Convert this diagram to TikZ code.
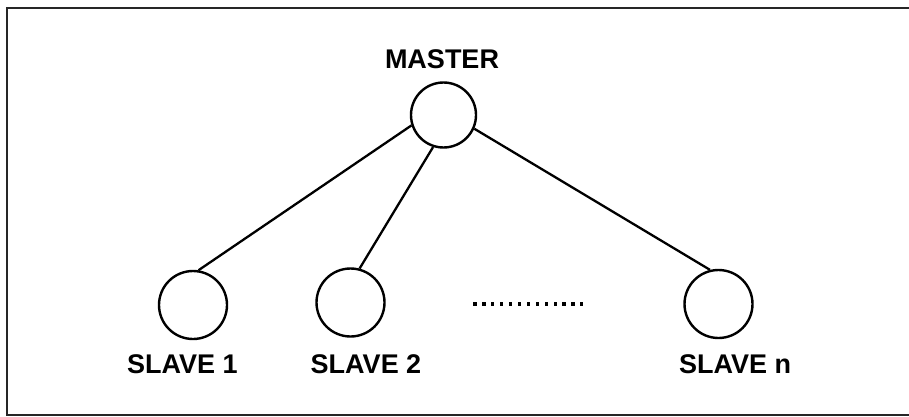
\documentclass[tikz,border=0pt]{standalone}
\usepackage{fontspec}
\setmainfont{Liberation Sans}
\begin{document}
\begin{tikzpicture}[x=1pt, y=-1pt,
  station/.style={circle, draw, line width=2.4pt, inner sep=0pt, minimum size=#1},
  station/.default=68pt,
  tag/.style={anchor=base, inner sep=0pt, font=\fontsize{27pt}{27pt}\selectfont\bfseries},
  link/.style={line width=2.3pt},
  frameline/.style={line width=2.2pt, black!85}]
  \useasboundingbox (0,0) rectangle (909,417);

  % outer frame (right side runs past the edge)
  \draw[frameline] (912,8) -- (7,8) -- (7,415) -- (912,415);

  % stations
  \node[station=65pt] (master) at (443.5,115) {};
  \node[station] (s1) at (193,305) {};
  \node[station] (s2) at (350.5,302.5) {};
  \node[station] (sn) at (718.5,304) {};

  % labels
  \node[tag] (lm) at (442,69) {MASTER};
  \node[tag] (l1) at (182.5,373) {SLAVE 1};
  \node[tag] (l2) at (366,373) {SLAVE 2};
  \node[tag] (ln) at (735,373) {SLAVE n};

  % links from master to each slave
  \draw[link] (master.198) -- (s1.81);
  \draw[link] (master.252) -- (s2.75);
  \draw[link] (master.336) -- (sn.104);

  % row of dots between the slaves
  \foreach \i in {0,...,12}
    \fill (475+\i*8.9-1.6,304-1.6) rectangle ++(3.2,3.2);
\end{tikzpicture}
\end{document}
